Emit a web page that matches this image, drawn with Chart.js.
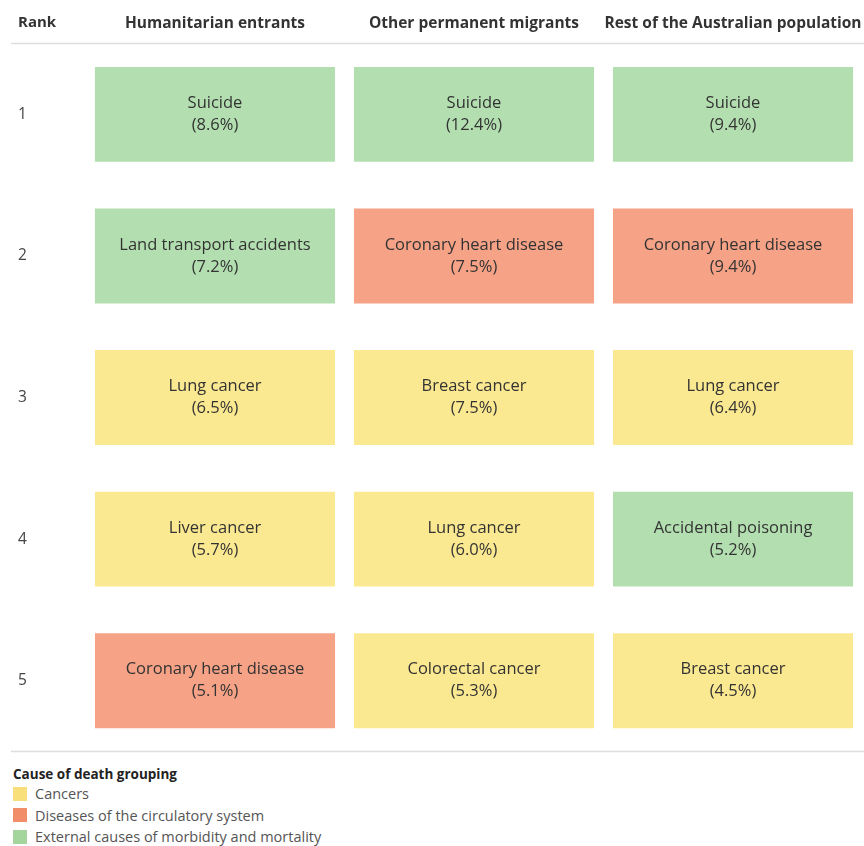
<!DOCTYPE html>
<html>
<head>
<meta charset="utf-8">
<script src="https://cdn.jsdelivr.net/npm/chart.js@4"></script>
<style>
  body { margin: 0; background: #fff; font-family: "Open Sans", sans-serif; }
  #wrap { position: relative; width: 864px; height: 756px; }
  #legend { padding: 9px 0 0 13px; color: #555; font-size: 14.5px; }
  #legend .title { color: #222; font-weight: bold; font-size: 13.5px; margin-bottom: 0; }
  #legend .item { display: flex; align-items: center; height: 21.5px; }
  #legend .swatch { width: 14px; height: 14px; margin-right: 8px; }
</style>
</head>
<body>
<div id="wrap"><canvas id="rankChart"></canvas></div>
<div id="legend"></div>
<script>
const columns = ['Humanitarian entrants', 'Other permanent migrants', 'Rest of the Australian population'];
const ranks = [1, 2, 3, 4, 5];

const humanitarianCauses = ['Suicide', 'Land transport accidents', 'Lung cancer', 'Liver cancer', 'Coronary heart disease'];
const humanitarianPct = [8.6, 7.2, 6.5, 5.7, 5.1];
const humanitarianGroup = ['external', 'external', 'cancer', 'cancer', 'circulatory'];

const otherCauses = ['Suicide', 'Coronary heart disease', 'Breast cancer', 'Lung cancer', 'Colorectal cancer'];
const otherPct = [12.4, 7.5, 7.5, 6.0, 5.3];
const otherGroup = ['external', 'circulatory', 'cancer', 'cancer', 'cancer'];

const restCauses = ['Suicide', 'Coronary heart disease', 'Lung cancer', 'Accidental poisoning', 'Breast cancer'];
const restPct = [9.4, 9.4, 6.4, 5.2, 4.5];
const restGroup = ['external', 'circulatory', 'cancer', 'external', 'cancer'];

const groupKeys = ['cancer', 'circulatory', 'external'];
const groupNames = ['Cancers', 'Diseases of the circulatory system', 'External causes of morbidity and mortality'];

const cellColors = { cancer: '#fbe991', circulatory: '#f5a286', external: '#b3dfb0' };
const swatchColors = { cancer: '#f9df7c', circulatory: '#f28d69', external: '#a3d59d' };

const causes = [humanitarianCauses, otherCauses, restCauses];
const pcts = [humanitarianPct, otherPct, restPct];
const groups = [humanitarianGroup, otherGroup, restGroup];

const halfCell = 0.335;

const datasets = ranks.map((rank, i) => ({
    label: 'Rank ' + rank,
    data: columns.map(() => [rank - halfCell, rank + halfCell]),
    backgroundColor: columns.map((c, j) => cellColors[groups[j][i]]),
    grouped: false,
    categoryPercentage: 1,
    barPercentage: 0.927,
    borderWidth: 0
}));

const tablePlugin = {
    id: 'tablePlugin',
    afterDatasetsDraw(chart) {
        const { ctx, chartArea } = chart;
        ctx.save();
        ctx.fillStyle = '#333';
        ctx.textAlign = 'center';
        ctx.textBaseline = 'middle';
        ctx.font = '16.5px "Open Sans", sans-serif';
        chart.data.datasets.forEach((ds, i) => {
            chart.getDatasetMeta(i).data.forEach((bar, j) => {
                const cy = (bar.y + bar.base) / 2;
                ctx.fillText(causes[j][i], bar.x, cy - 11);
                ctx.fillText('(' + pcts[j][i].toFixed(1) + '%)', bar.x, cy + 11);
            });
        });
        ctx.strokeStyle = '#dedede';
        ctx.lineWidth = 1.5;
        ctx.beginPath();
        ctx.moveTo(11, chartArea.top);
        ctx.lineTo(chart.width, chartArea.top);
        ctx.moveTo(11, chartArea.bottom);
        ctx.lineTo(chart.width, chartArea.bottom);
        ctx.stroke();
        ctx.fillStyle = '#333';
        ctx.textAlign = 'left';
        ctx.font = 'bold 15px "Open Sans", sans-serif';
        ctx.fillText('Rank', 18, chartArea.top - 20.5);
        ctx.restore();
    }
};

new Chart(document.getElementById('rankChart'), {
    type: 'bar',
    data: { labels: columns, datasets: datasets },
    options: {
        responsive: true,
        maintainAspectRatio: false,
        animation: false,
        layout: { padding: { top: 3, left: 18, right: 1.5, bottom: 4.5 } },
        plugins: { legend: { display: false }, tooltip: { enabled: false } },
        scales: {
            x: {
                position: 'top',
                afterFit: s => { s.paddingLeft = 0; s.paddingRight = 0; },
                grid: { display: false, drawTicks: false },
                border: { display: false },
                ticks: {
                    color: '#333',
                    padding: 11,
                    maxRotation: 0,
                    autoSkip: false,
                    font: { family: '"Open Sans", sans-serif', size: 15.5, weight: 'bold' }
                }
            },
            y: {
                reverse: true,
                min: 0.5,
                max: 5.5,
                afterBuildTicks: s => { s.ticks = ranks.map(v => ({ value: v })); },
                afterFit: s => { s.width = 67.5; s.paddingTop = 0; s.paddingBottom = 0; },
                grid: { display: false, drawTicks: false },
                border: { display: false },
                ticks: {
                    color: '#444',
                    crossAlign: 'far',
                    padding: 0,
                    font: { family: '"Open Sans", sans-serif', size: 15.5 },
                    callback: v => String(v)
                }
            }
        }
    },
    plugins: [tablePlugin]
});

const legend = document.getElementById('legend');
let html = '<div class="title">Cause of death grouping</div>';
groupKeys.forEach((k, i) => {
    html += '<div class="item"><span class="swatch" style="background:' + swatchColors[k] + '"></span>' + groupNames[i] + '</div>';
});
legend.innerHTML = html;
</script>
</body>
</html>
